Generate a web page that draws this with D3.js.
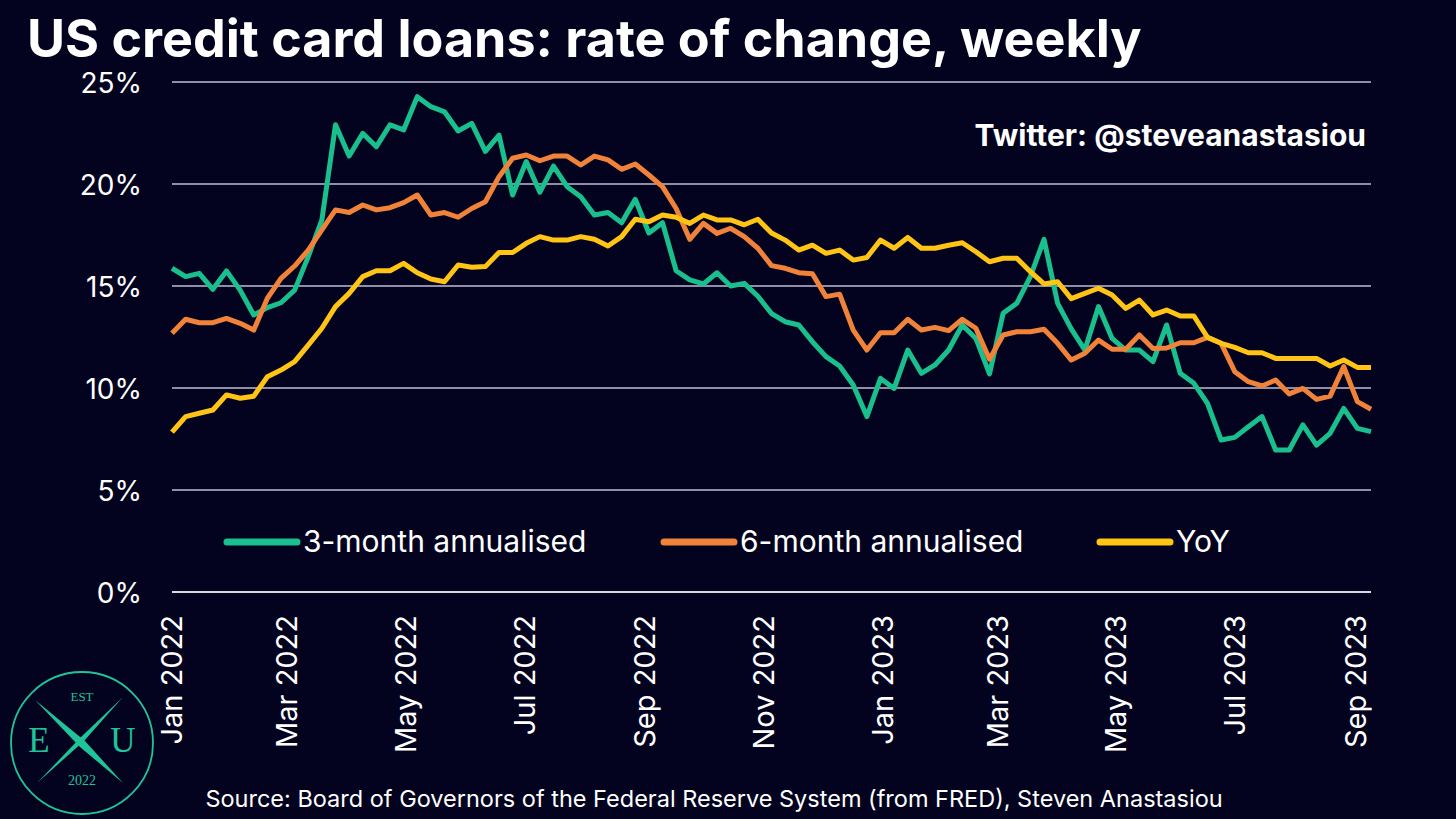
<!DOCTYPE html>
<html><head><meta charset="utf-8">
<script src="https://cdn.jsdelivr.net/npm/d3@7"></script>
<style>html,body{margin:0;padding:0;background:#03031f;} svg{display:block}</style>
</head><body><svg id="c" width="1456" height="819"></svg>
<script>
// ---- data ----
const firstWeek = "2022-01-05";   // weekly observations (Wednesdays)
const lastWeek = "2023-09-13";
const seriesNames = ["3-month annualised", "6-month annualised", "YoY"];
const threeMonth = [15.87,15.46,15.62,14.84,15.74,14.8,13.58,13.94,14.18,14.8,
  16.44,18.24,22.9,21.37,22.48,21.83,22.9,22.65,24.28,23.79,
  23.54,22.6,22.97,21.6,22.4,19.46,21.1,19.6,20.88,19.87,
  19.38,18.48,18.6,18.1,19.25,17.6,18.1,15.75,15.3,15.1,
  15.65,15.0,15.13,14.5,13.65,13.25,13.09,12.27,11.54,11.08,
  10.15,8.6,10.47,9.98,11.86,10.72,11.13,11.86,13.09,12.43,
  10.69,13.66,14.15,15.46,17.29,14.15,12.9,11.86,13.99,12.43,
  11.86,11.86,11.29,13.09,10.72,10.23,9.25,7.45,7.58,8.1,
  8.6,6.96,6.96,8.19,7.2,7.78,9.0,8.02,7.86];
const sixMonth = [12.68,13.37,13.2,13.2,13.41,13.17,12.84,14.4,15.37,15.98,
  16.76,17.75,18.73,18.6,18.97,18.73,18.84,19.09,19.46,18.48,
  18.6,18.37,18.8,19.13,20.36,21.26,21.42,21.14,21.37,21.37,
  20.93,21.37,21.18,20.72,20.98,20.44,19.87,18.8,17.29,18.07,
  17.58,17.83,17.42,16.85,16.0,15.87,15.65,15.6,14.48,14.6,
  12.84,11.86,12.71,12.71,13.37,12.84,12.97,12.81,13.37,12.93,
  11.41,12.6,12.76,12.76,12.88,12.19,11.37,11.7,12.35,11.9,
  11.9,12.6,11.94,11.96,12.22,12.22,12.48,12.19,10.8,10.31,
  10.1,10.39,9.71,9.98,9.44,9.6,11.05,9.33,8.96];
const yoy = [7.84,8.6,8.76,8.92,9.66,9.5,9.6,10.55,10.88,11.29,
  12.1,12.93,13.99,14.64,15.46,15.75,15.75,16.11,15.65,15.34,
  15.21,16.03,15.92,15.95,16.64,16.64,17.09,17.42,17.25,17.25,
  17.42,17.29,16.96,17.42,18.27,18.15,18.48,18.37,18.07,18.48,
  18.24,18.24,18.0,18.27,17.6,17.25,16.76,17.0,16.6,16.76,
  16.27,16.4,17.25,16.85,17.38,16.85,16.85,17.0,17.12,16.68,
  16.19,16.36,16.36,15.7,15.1,15.21,14.38,14.64,14.89,14.56,
  13.9,14.31,13.58,13.82,13.53,13.53,12.48,12.19,11.99,11.73,
  11.73,11.45,11.45,11.45,11.45,11.08,11.37,11.01,11.01];
const xTickDates = ["2022-01-05","2022-03-05","2022-05-05","2022-07-05","2022-09-05","2022-11-05",
  "2023-01-05","2023-03-05","2023-05-05","2023-07-05","2023-09-05"];
const yTicks = [0,5,10,15,20,25];
const colors = ["#19bf8c","#f0823a","#ffc414"];

// ---- chart ----
const parse = d3.timeParse("%Y-%m-%d");
const start = parse(firstWeek);
const weekDates = threeMonth.map((_, i) => d3.timeDay.offset(start, 7 * i));

const svg = d3.select("#c");
const W = 1456, H = 819;
svg.append("rect").attr("width", W).attr("height", H).attr("fill", "#03031f");

const x = d3.scaleTime().domain([start, parse(lastWeek)]).range([172, 1371]);
const y = d3.scaleLinear().domain([0, 25]).range([592, 82]);
const font = "Inter, 'Noto Sans', sans-serif";

// title
svg.append("text").attr("x", 27).attr("y", 57)
  .attr("font-family", font).attr("font-weight", 700).attr("font-size", 52)
  .attr("fill", "#fff").text("US credit card loans: rate of change, weekly");

// gridlines
const grid = svg.append("g");
grid.selectAll("line").data(yTicks).join("line")
  .attr("x1", 172).attr("x2", 1371)
  .attr("y1", d => y(d)).attr("y2", d => y(d))
  .attr("stroke", d => d === 0 ? "#d8d8e0" : "#8e8ea6")
  .attr("stroke-width", 2);

// y tick labels
svg.append("g").selectAll("text").data(yTicks).join("text")
  .attr("x", 142).attr("y", d => y(d) + 11)
  .attr("text-anchor", "end")
  .attr("font-family", font).attr("font-size", 28).attr("fill", "#fff")
  .text(d => d + "%");

// x tick labels
const fmt = d3.timeFormat("%b %Y");
svg.append("g").selectAll("text").data(xTickDates.map(parse)).join("text")
  .attr("transform", d => `translate(${x(d)},615) rotate(-90)`)
  .attr("text-anchor", "end").attr("dy", "0.36em")
  .attr("font-family", font).attr("font-size", 29).attr("fill", "#fff")
  .text(d => fmt(d));

// lines
const line = d3.line().x((d, i) => x(weekDates[i])).y(d => y(d));
const allSeries = [threeMonth, sixMonth, yoy];
svg.append("g").selectAll("path").data(allSeries).join("path")
  .attr("d", d => line(d))
  .attr("fill", "none")
  .attr("stroke", (d, i) => colors[i])
  .attr("stroke-width", 5)
  .attr("stroke-linejoin", "round");

// legend
const legX = [227, 664, 1100];
const leg = svg.append("g");
seriesNames.forEach((n, i) => {
  leg.append("line").attr("x1", legX[i]).attr("x2", legX[i] + 70)
    .attr("y1", 542).attr("y2", 542)
    .attr("stroke", colors[i]).attr("stroke-width", 7).attr("stroke-linecap", "round");
  leg.append("text").attr("x", legX[i] + 76).attr("y", 552)
    .attr("font-family", font).attr("font-size", 30).attr("fill", "#fff").text(n);
});

// twitter
svg.append("text").attr("x", 1366).attr("y", 146).attr("text-anchor", "end")
  .attr("font-family", font).attr("font-weight", 700).attr("font-size", 30)
  .attr("fill", "#fff").text("Twitter: @steveanastasiou");

// source
svg.append("text").attr("x", 714).attr("y", 807).attr("text-anchor", "middle")
  .attr("font-family", font).attr("font-size", 23.5)
  .attr("fill", "#fff").text("Source: Board of Governors of the Federal Reserve System (from FRED), Steven Anastasiou");

// logo
const lg = svg.append("g");
const teal = "#1fc49a";
const serif = "'Liberation Serif', 'DejaVu Serif', serif";
lg.append("circle").attr("cx", 82).attr("cy", 743).attr("r", 71)
  .attr("fill", "none").attr("stroke", teal).attr("stroke-width", 1.8);
lg.append("path").attr("d", "M35,700 L85,741 L123,783 L80,747 Z").attr("fill", teal);
lg.append("path").attr("d", "M123,697 L84,741 L37,783 L80,738 Z").attr("fill", teal);
lg.append("text").attr("x", 82).attr("y", 701).attr("text-anchor", "middle")
  .attr("font-family", serif).attr("font-size", 13).attr("fill", teal).text("EST");
lg.append("text").attr("x", 82).attr("y", 785).attr("text-anchor", "middle")
  .attr("font-family", serif).attr("font-size", 14).attr("fill", teal).text("2022");
lg.append("text").attr("x", 39).attr("y", 752).attr("text-anchor", "middle")
  .attr("font-family", serif).attr("font-size", 35).attr("fill", teal).text("E");
lg.append("text").attr("x", 123).attr("y", 752).attr("text-anchor", "middle")
  .attr("font-family", serif).attr("font-size", 35).attr("fill", teal).text("U");
</script></body></html>
